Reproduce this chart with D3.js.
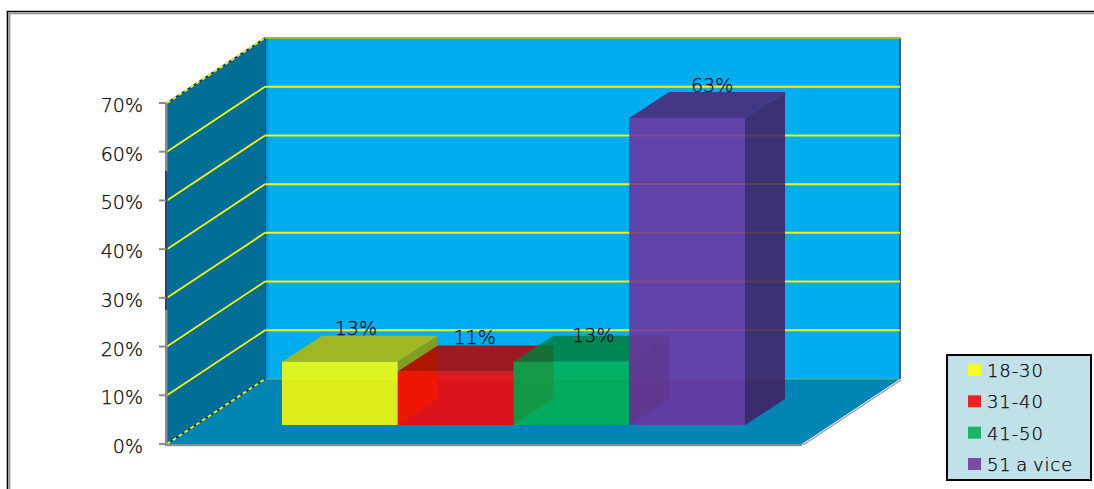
<!DOCTYPE html>
<html>
<head>
<meta charset="utf-8">
<script src="https://cdnjs.cloudflare.com/ajax/libs/d3/7.8.5/d3.min.js"></script>
<style>
  html, body { margin: 0; padding: 0; background: #fff; overflow: hidden; }
  svg { display: block; }
  text { font-family: "DejaVu Sans", sans-serif; font-weight: 200; fill: #000; stroke: #000; stroke-width: 0.25; }
</style>
</head>
<body>
<svg id="chart" width="1094" height="489"></svg>
<script>
// Age groups and their shares, in percent
const categories = ["18-30", "31-40", "41-50", "51 a vice"];
const shares = [13, 11, 13, 63];
const barColors = ["#ffff00", "#ff0000", "#00b050", "#7030a0"];
const swatchColors = ["#f8fa20", "#ee2222", "#1cb564", "#7a4aa8"];
const tickValues = [0, 10, 20, 30, 40, 50, 60, 70];

const svg = d3.select("#chart");

// Pseudo-3D box: front plane plus a depth vector towards the back wall
const y = d3.scaleLinear().domain([0, 70]).range([444, 103]);
const x0 = 167, x1 = 802;
const depth = { x: 98, y: -65 };
const barDepth = { x: 40, y: -26 };
const barLift = 19; // bars stand slightly inside the floor
const x = d3.scaleBand().domain(categories).range([282, 745]).padding(0);

const poly = pts => pts.map(p => p.join(",")).join(" ");
const line = d3.line();

// Page frame: black rule with a grey one inside, running off the right and bottom
svg.append("path").attr("d", "M7.5,489V11.5H1094").attr("fill", "none").attr("stroke", "#000").attr("stroke-width", 1.6);
svg.append("path").attr("d", "M9.5,489V13.5H1094").attr("fill", "none").attr("stroke", "#8c8c8c").attr("stroke-width", 1.6);

// Walls and floor
const ceilY = y(70), floorY = y(0);
svg.append("polygon").attr("fill", "#00aeef")
  .attr("points", poly([[x0 + depth.x, ceilY + depth.y], [x1 + depth.x, ceilY + depth.y], [x1 + depth.x, floorY + depth.y], [x0 + depth.x, floorY + depth.y]]));
svg.append("polygon").attr("fill", "#006e96")
  .attr("points", poly([[x0, floorY], [x0, ceilY], [x0 + depth.x, ceilY + depth.y], [x0 + depth.x, floorY + depth.y]]));
svg.append("polygon").attr("fill", "#0085b5")
  .attr("points", poly([[x0, floorY], [x1, floorY], [x1 + depth.x, floorY + depth.y], [x0 + depth.x, floorY + depth.y]]));

// Lighter strip and dark edge where the walls meet
svg.append("rect").attr("x", x0 + depth.x + 1).attr("y", ceilY + depth.y).attr("width", 2.5).attr("height", floorY - ceilY).attr("fill", "#0096dc");
svg.append("line").attr("x1", x0 + depth.x + .5).attr("x2", x0 + depth.x + .5).attr("y1", ceilY + depth.y).attr("y2", floorY + depth.y).attr("stroke", "#0b3a78").attr("stroke-width", 1);
svg.append("line").attr("x1", x1 + depth.x).attr("x2", x1 + depth.x).attr("y1", ceilY + depth.y).attr("y2", floorY + depth.y).attr("stroke", "#14408a").attr("stroke-width", 1.6);

// Gridlines fold from the side wall onto the back wall
tickValues.forEach(v => {
  const py = y(v);
  const side = [[x0, py], [x0 + depth.x, py + depth.y]];
  const back = [[x0 + depth.x, py + depth.y], [x1 + depth.x, py + depth.y]];
  const isEdge = v === 0 || v === 70;
  if (isEdge) {
    svg.append("path").attr("d", line(side)).attr("fill", "none").attr("stroke", "#0b3a60").attr("stroke-width", 1.6);
  }
  svg.append("path").attr("d", line(side)).attr("fill", "none")
    .attr("stroke", "#f6f60a").attr("stroke-width", 1.8)
    .attr("stroke-dasharray", isEdge ? "4 3" : null);
  svg.append("path").attr("d", line(back)).attr("fill", "none")
    .attr("stroke", v === 70 ? "#a8b818" : "#f2f20a")
    .attr("stroke-width", v === 0 ? 1 : 2)
    .attr("stroke-opacity", v === 0 ? 0.4 : 1);
});

// Axis rules and tick marks
svg.append("path").attr("d", line([[x1 + 1, floorY + 1], [x1 + depth.x + 1, floorY + depth.y + 1]]))
  .attr("fill", "none").attr("stroke", "#9a9a9a").attr("stroke-width", 1.4);
svg.append("rect").attr("x", x0 - 2).attr("y", ceilY).attr("width", 2.5).attr("height", floorY - ceilY + 2).attr("fill", "#8c8c8c");
svg.append("rect").attr("x", x0 - 2).attr("y", 171).attr("width", 2.5).attr("height", 139).attr("fill", "#2c3f74");
svg.append("rect").attr("x", x0 - 2).attr("y", floorY).attr("width", x1 - x0 + 2).attr("height", 2.2).attr("fill", "#8c8c8c");
svg.selectAll(".tick-mark").data(tickValues).join("rect")
  .attr("class", "tick-mark")
  .attr("x", x0 - 8).attr("width", 7).attr("height", 2)
  .attr("y", d => y(d) - 1).attr("fill", "#8c8c8c");
svg.selectAll(".tick-label").data(tickValues).join("text")
  .attr("class", "tick-label")
  .attr("x", 143).attr("y", d => y(d) + 9)
  .attr("text-anchor", "end").attr("font-size", 19)
  .text(d => d + "%");

// Bars: translucent faces painted left to right, so each one tints its neighbour's side
const dim = (c, k) => { const r = d3.rgb(c); return d3.rgb(r.r * k, r.g * k, r.b * k).formatHex(); };
const faceOpacity = 0.86;
categories.forEach((cat, i) => {
  const left = x(cat), right = left + x.bandwidth();
  const bottom = floorY - barLift;
  const upper = y(shares[i]) - barLift;
  const dx = barDepth.x, dy = barDepth.y;
  const color = barColors[i];
  const g = svg.append("g").attr("fill-opacity", faceOpacity);
  g.append("polygon").attr("fill", dim(color, .6))
    .attr("points", poly([[right, bottom], [right + dx, bottom + dy], [right + dx, upper + dy], [right, upper]]));
  g.append("polygon").attr("fill", dim(color, .72))
    .attr("points", poly([[left, upper], [right, upper], [right + dx, upper + dy], [left + dx, upper + dy]]));
  g.append("polygon").attr("fill", color)
    .attr("points", poly([[left, bottom], [right, bottom], [right, upper], [left, upper]]));
});

// Value labels sit above the back edge of each bar top
const labelShift = [[16, -1], [19, -1], [22, 6], [25, 0]];
svg.selectAll(".value").data(shares).join("text")
  .attr("class", "value")
  .attr("font-size", 19)
  .attr("text-anchor", "middle")
  .attr("x", (d, i) => x(categories[i]) + x.bandwidth() / 2 + labelShift[i][0])
  .attr("y", (d, i) => y(d) - barLift + barDepth.y + labelShift[i][1])
  .text(d => d + "%");

// Legend
const legend = svg.append("g");
legend.append("rect").attr("x", 947).attr("y", 355).attr("width", 144).attr("height", 125)
  .attr("fill", "#c0e1ea").attr("stroke", "#000").attr("stroke-width", 2);
const legendY = d3.scalePoint().domain(categories).range([370, 464]);
legend.selectAll("rect.swatch").data(categories).join("rect")
  .attr("class", "swatch")
  .attr("x", 968).attr("width", 13).attr("height", 12)
  .attr("y", d => legendY(d) - 6)
  .attr("fill", (d, i) => swatchColors[i]);
legend.selectAll("text").data(categories).join("text")
  .attr("x", 987).attr("y", d => legendY(d) + 7)
  .attr("font-size", 18).attr("letter-spacing", 0.9).attr("word-spacing", -2)
  .text(d => d);
</script>
</body>
</html>
